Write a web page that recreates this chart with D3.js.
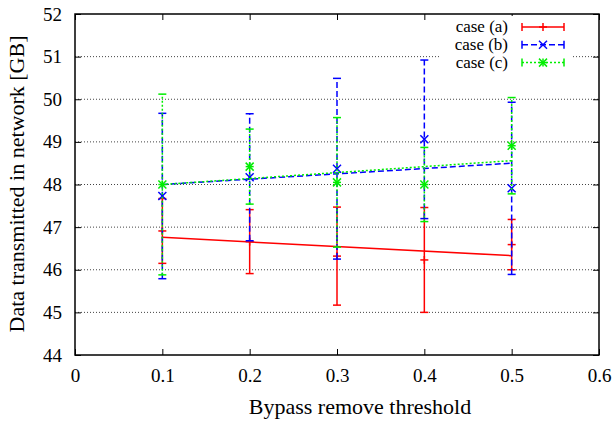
<!DOCTYPE html>
<html>
<head>
<meta charset="utf-8">
<script src="https://cdn.jsdelivr.net/npm/d3@7"></script>
<style>
  body { margin: 0; background: #fff; }
  svg text { font-family: "Liberation Serif", "Times New Roman", serif; }
</style>
</head>
<body>
<div id="chart"></div>
<script>
const thresholds = [0.1, 0.2, 0.3, 0.4, 0.5];

// mean values and half-width of error bars
const caseA = [46.91, 46.66, 46.32, 46.23, 46.59];
const caseAErr = [0.76, 0.75, 1.15, 1.23, 0.59];
const caseB = [47.73, 48.17, 48.37, 49.06, 47.91];
const caseBErr = [1.94, 1.49, 2.12, 1.86, 2.02];
const caseC = [48.00, 48.42, 48.05, 48.00, 48.91];
const caseCErr = [2.12, 0.88, 1.52, 0.87, 1.13];

// fitted lines, value at x=0.1 and x=0.5
const fitX = [0.1, 0.5];
const fitA = [46.76, 46.33];
const fitB = [48.00, 48.50];
const fitC = [48.00, 48.56];

const xTicks = [0, 0.1, 0.2, 0.3, 0.4, 0.5, 0.6];
const yTicks = [44, 45, 46, 47, 48, 49, 50, 51, 52];

const width = 613, height = 422;
const margin = {top: 14, right: 14, bottom: 67, left: 75};
const serif = "Liberation Serif";

const svg = d3.select("#chart").append("svg")
    .attr("width", width)
    .attr("height", height);

const x = d3.scaleLinear().domain([0, 0.6]).range([margin.left, width - margin.right]);
const y = d3.scaleLinear().domain([44, 52]).range([height - margin.bottom, margin.top]);

// horizontal grid
svg.append("g")
    .selectAll("line")
    .data(yTicks.slice(1, -1))
    .enter()
    .append("line")
        .attr("x1", x(0)).attr("x2", x(0.6))
        .attr("y1", d => y(d)).attr("y2", d => y(d))
        .attr("stroke", "#444")
        .attr("stroke-width", 1)
        .attr("stroke-dasharray", "1,2");

// axes with inward ticks, mirrored
const tickLen = 6;
svg.append("g")
    .attr("transform", `translate(0,${y(44)})`)
    .call(d3.axisBottom(x).tickValues(xTicks).tickFormat(d => d === 0 ? "0" : d3.format(".1f")(d)).tickSizeInner(-tickLen).tickSizeOuter(0).tickPadding(14))
    .call(g => g.select(".domain").remove())
    .attr("font-family", serif).attr("font-size", 19)
    .call(g => g.selectAll("text").attr("fill", "#000"));
svg.append("g")
    .attr("transform", `translate(0,${y(52)})`)
    .call(d3.axisTop(x).tickValues(xTicks).tickFormat("").tickSizeInner(-tickLen).tickSizeOuter(0))
    .call(g => g.select(".domain").remove());
svg.append("g")
    .attr("transform", `translate(${x(0)},0)`)
    .call(d3.axisLeft(y).tickValues(yTicks).tickFormat(d3.format("d")).tickSizeInner(-tickLen).tickSizeOuter(0).tickPadding(13))
    .call(g => g.select(".domain").remove())
    .attr("font-family", serif).attr("font-size", 19)
    .call(g => g.selectAll("text").attr("fill", "#000"));
svg.append("g")
    .attr("transform", `translate(${x(0.6)},0)`)
    .call(d3.axisRight(y).tickValues(yTicks).tickFormat("").tickSizeInner(-tickLen).tickSizeOuter(0))
    .call(g => g.select(".domain").remove());

svg.selectAll(".tick line").attr("stroke", "#000").attr("stroke-width", 1);

// series
const series = [
  {name: "case (a)", vals: caseA, err: caseAErr, fit: fitA, color: "#ff0000", dash: null, mark: "plus"},
  {name: "case (b)", vals: caseB, err: caseBErr, fit: fitB, color: "#0000ff", dash: "6,3", mark: "cross"},
  {name: "case (c)", vals: caseC, err: caseCErr, fit: fitC, color: "#00ee00", dash: "2,2", mark: "star"}
];

const line = d3.line().x(d => x(d[0])).y(d => y(d[1]));
const ms = 4;

function marker(g, kind, cx, cy, color) {
  const segs = [];
  if (kind === "plus" || kind === "star") segs.push([-ms, 0, ms, 0], [0, -ms, 0, ms]);
  if (kind === "cross" || kind === "star") segs.push([-ms, -ms, ms, ms], [-ms, ms, ms, -ms]);
  g.selectAll(null).data(segs).enter().append("line")
      .attr("x1", s => cx + s[0]).attr("y1", s => cy + s[1])
      .attr("x2", s => cx + s[2]).attr("y2", s => cy + s[3])
      .attr("stroke", color).attr("stroke-width", 1.5);
}

series.forEach(s => {
  const g = svg.append("g");
  const pts = thresholds.map((t, i) => ({t: t, v: s.vals[i], e: s.err[i]}));

  g.selectAll(".bar").data(pts).enter().append("line")
      .attr("x1", d => x(d.t)).attr("x2", d => x(d.t))
      .attr("y1", d => y(d.v - d.e)).attr("y2", d => y(d.v + d.e))
      .attr("stroke", s.color).attr("stroke-width", 1.5)
      .attr("stroke-dasharray", s.dash);

  pts.forEach(d => {
    [d.v - d.e, d.v + d.e].forEach(v => {
      g.append("line")
          .attr("x1", x(d.t) - 4).attr("x2", x(d.t) + 4)
          .attr("y1", y(v)).attr("y2", y(v))
          .attr("stroke", s.color).attr("stroke-width", 1.5);
    });
    marker(g, s.mark, x(d.t), y(d.v), s.color);
  });

  g.append("path")
      .datum(fitX.map((t, i) => [t, s.fit[i]]))
      .attr("d", line)
      .attr("fill", "none")
      .attr("stroke", s.color).attr("stroke-width", 1.5)
      .attr("stroke-dasharray", s.dash);
});

// legend
const legend = svg.append("g");
legend.append("rect")
    .attr("x", 441).attr("y", 16).attr("width", 132).attr("height", 54)
    .attr("fill", "#fff");
series.forEach((s, i) => {
  const ly = 27 + i * 17.8;
  legend.append("text")
      .attr("x", 508).attr("y", ly + 5)
      .attr("text-anchor", "end")
      .attr("font-family", serif)
      .attr("font-size", 17)
      .text(s.name);
  legend.append("line")
      .attr("x1", 522).attr("x2", 564).attr("y1", ly).attr("y2", ly)
      .attr("stroke", s.color).attr("stroke-width", 1.5)
      .attr("stroke-dasharray", s.dash);
  [522, 564].forEach(ex => legend.append("line")
      .attr("x1", ex).attr("x2", ex).attr("y1", ly - 4).attr("y2", ly + 4)
      .attr("stroke", s.color).attr("stroke-width", 1.5));
  marker(legend, s.mark, 543, ly, s.color);
});

// border
svg.append("rect")
    .attr("x", x(0)).attr("y", y(52))
    .attr("width", x(0.6) - x(0)).attr("height", y(44) - y(52))
    .attr("fill", "none").attr("stroke", "#000").attr("stroke-width", 1.5);

// axis titles
svg.append("text")
    .attr("x", 360).attr("y", 414)
    .attr("text-anchor", "middle")
    .attr("font-family", serif)
    .attr("font-size", 22)
    .text("Bypass remove threshold");
svg.append("text")
    .attr("transform", `translate(24,184) rotate(-90)`)
    .attr("text-anchor", "middle")
    .attr("font-family", serif)
    .attr("font-size", 22)
    .text("Data transmitted in network [GB]");
</script>
</body>
</html>
